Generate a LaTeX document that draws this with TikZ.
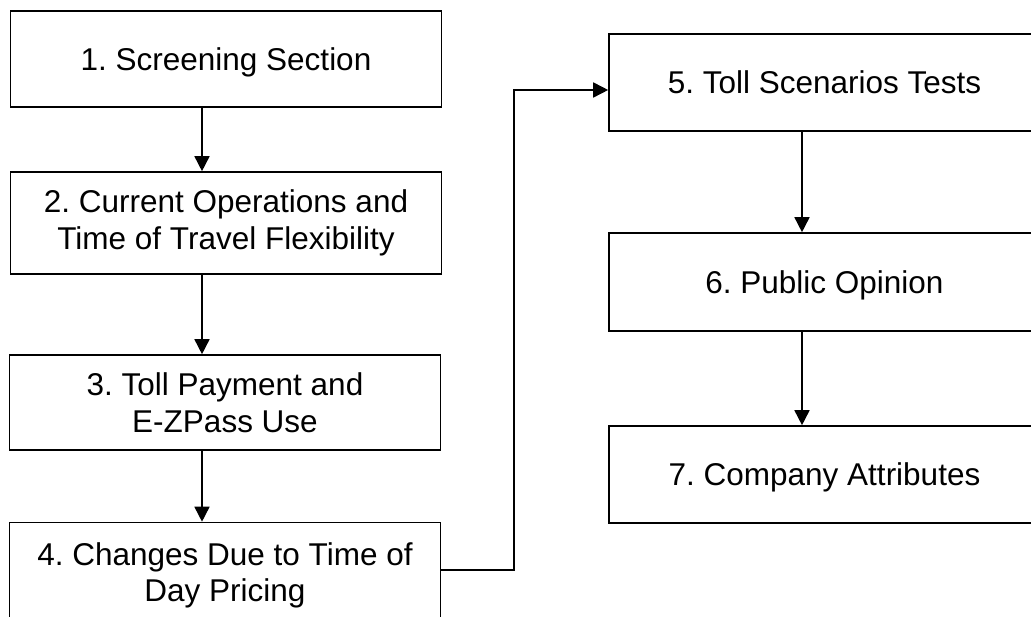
\documentclass[tikz,border=0pt]{standalone}
\usepackage{fontspec}
\setmainfont{Liberation Sans}
\usetikzlibrary{arrows.meta,calc}
\begin{document}
\frenchspacing
\begin{tikzpicture}[x=1pt,y=-1pt,
  box/.style={draw, line width=1.6pt, rectangle, inner sep=0pt, align=center,
    minimum width=431pt, font=\fontsize{31.5}{36.5}\selectfont},
  oneline/.style={text depth=0pt},
  arr/.style={line width=1.6pt, -{Triangle[length=15pt,width=15pt]}}]
\useasboundingbox (0,0) rectangle (1031,617);
\clip (0,0) rectangle (1031,617);
\node[box, oneline, minimum height=96pt]  (b1) at (226,59)    {1. Screening Section};
\node[box, minimum height=102pt] (b2) at (226,223)   {2. Current Operations and\\Time of Travel Flexibility};
\node[box, minimum height=95pt]  (b3) at (225,402.5) {3. Toll Payment and\\E-ZPass Use};
\node[box, minimum height=106pt] (b4) at (225,575.5) {4. Changes Due to Time of\\Day Pricing};
\node[box, oneline, minimum height=97pt]  (b5) at (824.5,82.5) {5. Toll Scenarios Tests};
\node[box, oneline, minimum height=98pt]  (b6) at (824.5,282)  {6. Public Opinion};
\node[box, oneline, minimum height=97pt]  (b7) at (824.5,474.5) {7. Company Attributes};
\coordinate (axL) at (202,0);
\coordinate (axR) at (802,0);
\coordinate (yA) at (0,570);
\coordinate (j) at (514,90);
\draw[arr] (b1.south -| axL) -- (b2.north -| axL);
\draw[arr] (b2.south -| axL) -- (b3.north -| axL);
\draw[arr] (b3.south -| axL) -- (b4.north -| axL);
\draw[arr] (b5.south -| axR) -- (b6.north -| axR);
\draw[arr] (b6.south -| axR) -- (b7.north -| axR);
\draw[arr] (b4.east |- yA) -| (j) -- (b5.west |- j);
\end{tikzpicture}
\end{document}
